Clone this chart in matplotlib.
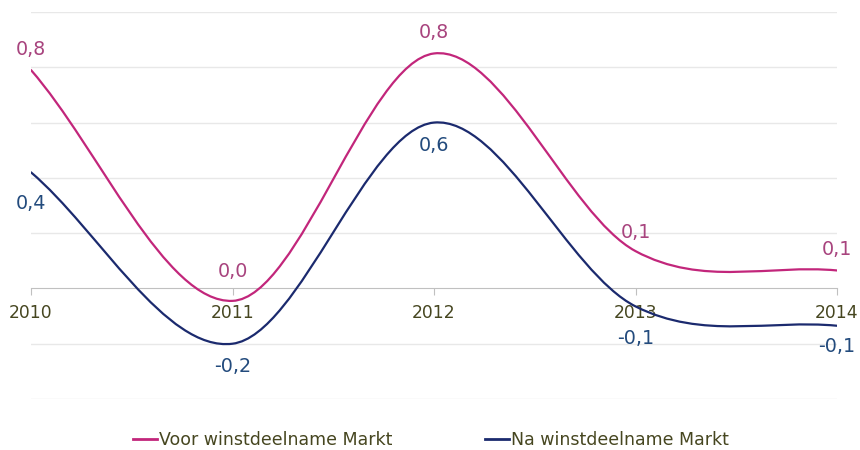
import matplotlib
matplotlib.use("Agg")
import matplotlib.pyplot as plt
from matplotlib.path import Path
from matplotlib.patches import PathPatch
from matplotlib.lines import Line2D

years = [2010, 2011, 2012, 2013, 2014]
voor = [0.79, -0.045, 0.85, 0.135, 0.065]
na = [0.42, -0.20, 0.60, -0.065, -0.135]
voor_labels = ["0,8", "0,0", "0,8", "0,1", "0,1"]
na_labels = ["0,4", "-0,2", "0,6", "-0,1", "-0,1"]
series_names = ["Voor winstdeelname Markt", "Na winstdeelname Markt"]

PINK = "#c2267b"
PINK_TXT = "#a8447e"
BLUE = "#1b2a6e"
BLUE_TXT = "#234b7d"
AXIS_TXT = "#464620"
FONT = "DejaVu Sans"


def smooth_path(xs, ys):
    # excel-like smoothed line: bezier segments, tangents from the neighbours
    n = len(xs)
    lc = [None] * n
    rc = [None] * n
    for i in range(1, n - 1):
        dx = (xs[i + 1] - xs[i - 1]) / 6
        dy = (ys[i + 1] - ys[i - 1]) / 6
        lc[i] = (xs[i] - dx, ys[i] - dy)
        rc[i] = (xs[i] + dx, ys[i] + dy)
    # end points: tangent along the chord to the neighbour
    rc[0] = (xs[0] + (xs[1] - xs[0]) / 3, ys[0] + (ys[1] - ys[0]) / 3)
    lc[-1] = (xs[-1] - (xs[-1] - xs[-2]) / 3, ys[-1] - (ys[-1] - ys[-2]) / 3)
    verts = [(xs[0], ys[0])]
    codes = [Path.MOVETO]
    for i in range(1, n):
        verts += [rc[i - 1], lc[i], (xs[i], ys[i])]
        codes += [Path.CURVE4] * 3
    return Path(verts, codes)


fig = plt.figure(figsize=(8.6, 4.5), dpi=100)
ax = fig.add_axes([31 / 860, 1 - 399 / 450, 806 / 860, 387 / 450])
ax.set_xlim(2010, 2014)
ax.set_ylim(-0.4, 1.0)

for g in [-0.4, -0.2, 0.2, 0.4, 0.6, 0.8, 1.0]:
    ax.axhline(g, color="#e8e8e8", lw=1.0, zorder=1)

for vals, col in [(voor, PINK), (na, BLUE)]:
    ax.add_patch(PathPatch(smooth_path(years, vals), fill=False, edgecolor=col,
                           lw=1.6, zorder=3, capstyle="round"))

# data labels, pixel offsets from the point
up = [21, 29, 21, 19, 21]
down = [31, 23, 23, 32, 21]
for x, v, t, off in zip(years, voor, voor_labels, up):
    ax.annotate(t, (x, v), xytext=(0, off * 0.72), textcoords="offset points",
                ha="center", va="center", color=PINK_TXT, fontsize=13.8,
                family=FONT, zorder=4, annotation_clip=False)
for x, v, t, off in zip(years, na, na_labels, down):
    ax.annotate(t, (x, v), xytext=(0, -off * 0.72), textcoords="offset points",
                ha="center", va="center", color=BLUE_TXT, fontsize=13.8,
                family=FONT, zorder=4, annotation_clip=False)

for s in ["left", "right", "top"]:
    ax.spines[s].set_visible(False)
ax.spines["bottom"].set_position(("data", 0))
ax.spines["bottom"].set_color("#c0c0c0")
ax.spines["bottom"].set_zorder(2)
ax.set_yticks([])
ax.set_xticks(years)
ax.set_xticklabels([str(y) for y in years], family=FONT, fontsize=12.3, color=AXIS_TXT)
ax.tick_params(axis="x", direction="out", length=5, color="#c0c0c0", pad=6)

handles = [Line2D([], [], color=PINK, lw=2), Line2D([], [], color=BLUE, lw=2)]
fig.legend(handles, series_names, loc="center", bbox_to_anchor=(431 / 860, 1 - 440 / 450),
           ncol=2, frameon=False, handlelength=1.38, handletextpad=0.12,
           columnspacing=5.3, prop={"family": FONT, "size": 12.5},
           labelcolor=AXIS_TXT)

fig.savefig("out.png", dpi=100)
